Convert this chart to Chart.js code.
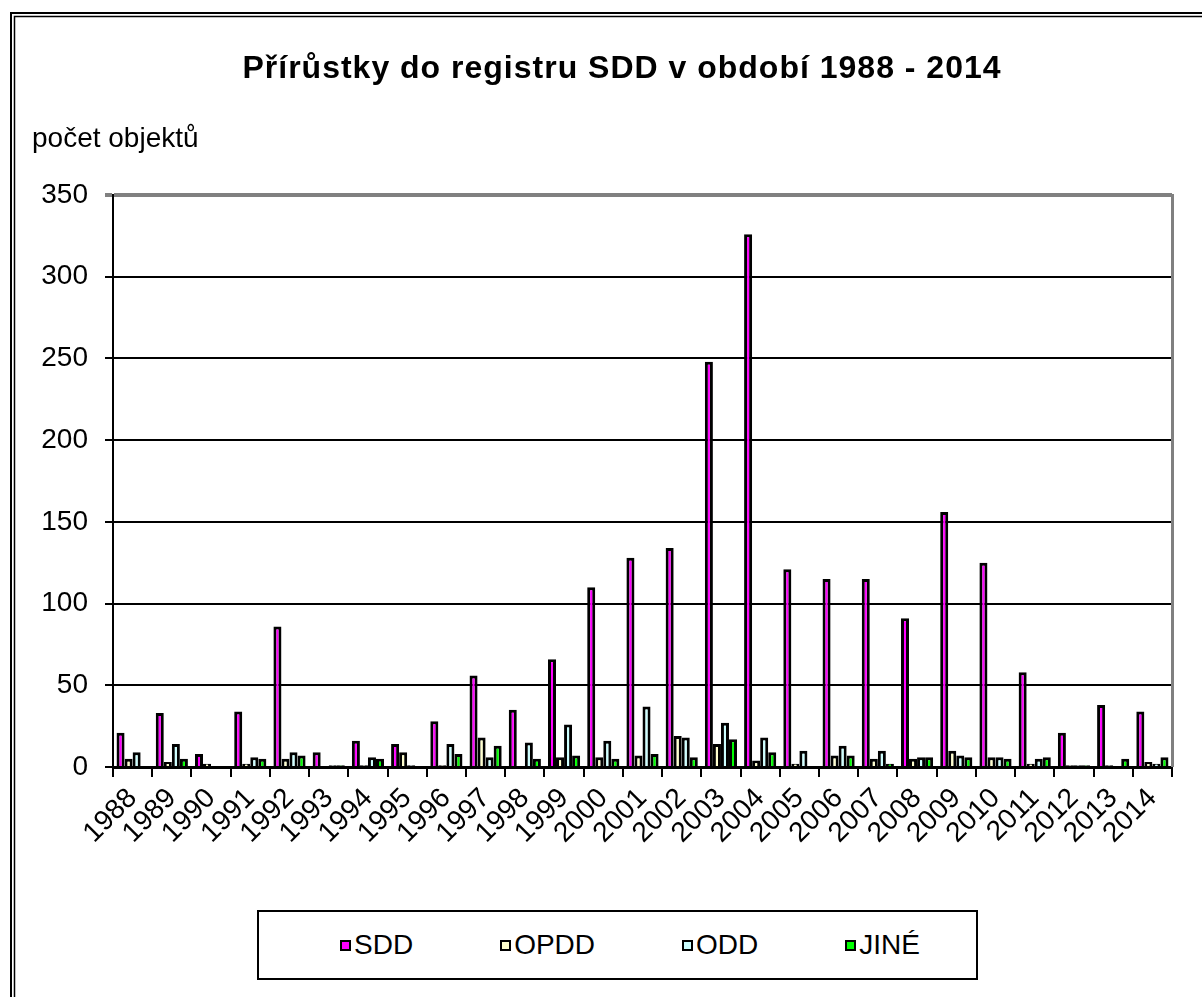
<!DOCTYPE html>
<html>
<head>
<meta charset="utf-8">
<script src="https://cdn.jsdelivr.net/npm/chart.js@4.4.1/dist/chart.umd.min.js"></script>
<style>
    body { margin: 0; background: #fff; }
    #wrap { position: relative; width: 1202px; height: 997px; background: #fff; overflow: hidden; }
    #chart { position: absolute; left: 0; top: 0; }
    #title {
        position: absolute; left: 22px; width: 1200px; top: 49px; text-align: center;
        font-family: "Liberation Sans", Arial, sans-serif; font-size: 32px; font-weight: bold;
        letter-spacing: 1px; line-height: 36px; color: #000;
    }
    #yLabel {
        position: absolute; left: 32px; top: 124px;
        font-family: "Liberation Sans", Arial, sans-serif; font-size: 28px; line-height: 28px; color: #000;
    }
    #legend {
        position: absolute; left: 257px; top: 910px; width: 721px; height: 70px;
        box-sizing: border-box; border: 2px solid #000; background: #fff;
        display: flex; align-items: center; padding-left: 81px;
        font-family: "Liberation Sans", Arial, sans-serif; font-size: 28px; color: #000;
    }
    .legend_item { display: flex; align-items: center; margin-right: 87px; line-height: 1; }
    .legend_box { width: 11px; height: 11px; box-sizing: border-box; border: 2px solid #000; margin-right: 3px; }
</style>
</head>
<body>
<div id="wrap">
    <canvas id="chart" width="1202" height="997"></canvas>
    <div id="title"></div>
    <div id="yLabel">počet objektů</div>
    <div id="legend"></div>
</div>
<script>
var years = ["1988", "1989", "1990", "1991", "1992", "1993", "1994", "1995", "1996", "1997", "1998", "1999", "2000",
    "2001", "2002", "2003", "2004", "2005", "2006", "2007", "2008", "2009", "2010", "2011", "2012", "2013", "2014"];
var sddValues  = [21, 33, 8, 34, 86, 9, 16, 14, 28, 56, 35, 66, 110, 128, 134, 248, 326, 121, 115, 115, 91, 156, 125, 58, 21, 38, 34];
var opddValues = [5, 3, 2, 2, 5, 0, 1, 9, 1, 18, 0, 6, 6, 7, 19, 14, 4, 2, 7, 5, 5, 10, 6, 2, 1, 1, 3];
var oddValues  = [9, 14, 0, 6, 9, 1, 6, 1, 14, 6, 15, 26, 16, 37, 18, 27, 18, 10, 13, 10, 6, 7, 6, 5, 1, 0, 2];
var jineValues = [0, 5, 0, 5, 7, 1, 5, 0, 8, 13, 5, 7, 5, 8, 6, 17, 9, 0, 7, 2, 6, 6, 5, 6, 1, 5, 6];
var seriesNames = ["SDD", "OPDD", "ODD", "JINÉ"];
var seriesColors = ["#FF00FF", "#FFFFCC", "#CCFFFF", "#00FF00"];
var yMin = 0, yMax = 350, yStep = 50;
var titleText = "Přírůstky do registru SDD v období 1988 - 2014";

var fontFamily = '"Liberation Sans", Arial, sans-serif';

document.getElementById("title").textContent = titleText;

// legend in html, built from the same names and colours
var legend = document.getElementById("legend");
seriesNames.forEach(function (name, i) {
    var item = document.createElement("div");
    item.className = "legend_item";
    var box = document.createElement("span");
    box.className = "legend_box";
    box.style.background = seriesColors[i];
    var txt = document.createElement("span");
    txt.textContent = name;
    item.appendChild(box);
    item.appendChild(txt);
    legend.appendChild(item);
});

// frame: gray right border of plot + double outer border
var framePlugin = {
    id: "frame",
    afterDraw: function (chart) {
        var ctx = chart.ctx;
        var a = chart.chartArea;
        ctx.save();
        ctx.strokeStyle = "#808080";
        ctx.lineWidth = 3;
        ctx.beginPath();
        ctx.moveTo(a.right + 0.5, a.top - 1);
        ctx.lineTo(a.right + 0.5, a.bottom);
        ctx.stroke();

        ctx.strokeStyle = "#000";
        ctx.lineWidth = 2;
        ctx.strokeRect(11, 13, chart.width + 20, chart.height + 20);
        ctx.lineWidth = 1.5;
        ctx.strokeRect(14.5, 16.5, chart.width + 20, chart.height + 20);
        ctx.restore();
    }
};

var allValues = [sddValues, opddValues, oddValues, jineValues];

var ctx = document.getElementById("chart").getContext("2d");
var barChart = new Chart(ctx, {
    type: "bar",
    data: {
        labels: years,
        datasets: seriesNames.map(function (name, i) {
            return {
                label: name,
                data: allValues[i],
                backgroundColor: seriesColors[i],
                borderColor: "#000",
                borderWidth: 3,
                borderSkipped: "bottom",
                barPercentage: 1.0,
                categoryPercentage: 0.82
            };
        })
    },
    options: {
        responsive: false,
        animation: false,
        devicePixelRatio: 1,
        layout: {
            padding: { top: 195, left: 33, right: 30, bottom: 90 }
        },
        plugins: {
            legend: { display: false },
            tooltip: { enabled: false },
            title: { display: false }
        },
        scales: {
            x: {
                afterFit: function (scale) { scale.height = 140; },
                ticks: {
                    autoSkip: false,
                    minRotation: 45,
                    maxRotation: 45,
                    color: "#000",
                    padding: 5,
                    font: { family: fontFamily, size: 28 }
                },
                grid: {
                    display: true,
                    drawOnChartArea: false,
                    color: "#000",
                    lineWidth: 2,
                    tickLength: 10,
                    offset: true
                },
                border: { color: "#000", width: 3 }
            },
            y: {
                min: yMin,
                max: yMax,
                afterFit: function (scale) { scale.width = 80; },
                ticks: {
                    stepSize: yStep,
                    color: "#000",
                    padding: 17,
                    font: { family: fontFamily, size: 28 }
                },
                grid: {
                    color: function (c) { return c.tick && c.tick.value === yMax ? "#808080" : "#000"; },
                    lineWidth: function (c) { return c.tick && c.tick.value === yMax ? 4 : 2; },
                    tickLength: 8
                },
                border: { color: "#000", width: 2 }
            }
        }
    },
    plugins: [framePlugin]
});
</script>
</body>
</html>
